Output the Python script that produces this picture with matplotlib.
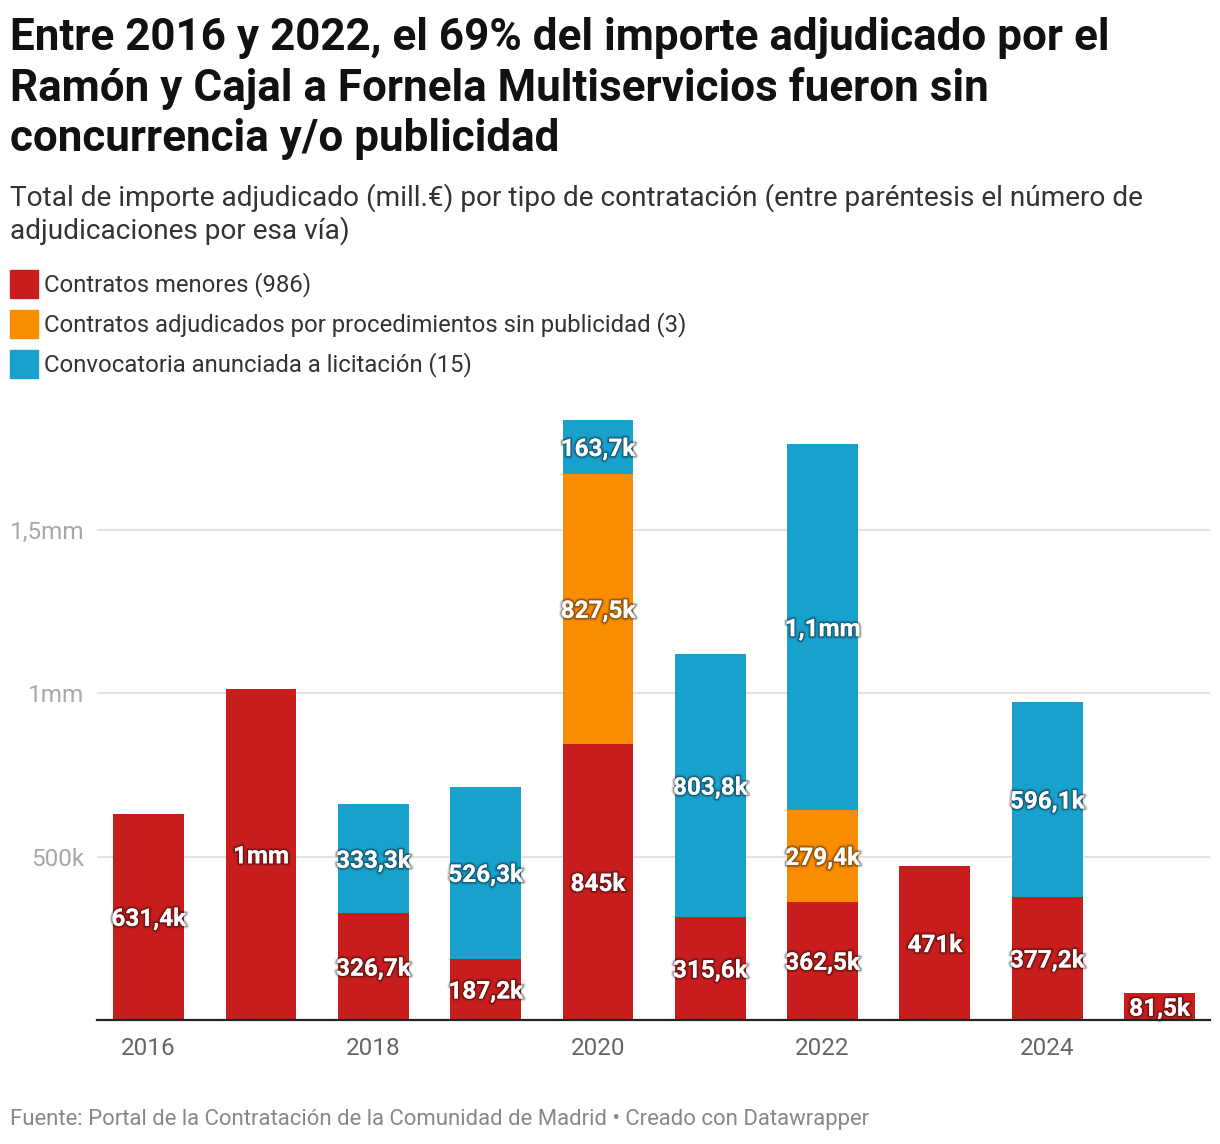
import matplotlib
matplotlib.use("Agg")
import matplotlib.pyplot as plt
import matplotlib.patheffects as pe
import numpy as np

years = [2016, 2017, 2018, 2019, 2020, 2021, 2022, 2023, 2024, 2025]
# values in thousands of euros
menores = [631.4, 1015.0, 326.7, 187.2, 845.0, 315.6, 362.5, 471.0, 377.2, 81.5]
sin_publicidad = [0, 0, 0, 0, 827.5, 0, 279.4, 0, 0, 0]
licitacion = [0, 0, 333.3, 526.3, 163.7, 803.8, 1122.0, 0, 596.1, 0]

series_names = ["Contratos menores (986)",
                "Contratos adjudicados por procedimientos sin publicidad (3)",
                "Convocatoria anunciada a licitación (15)"]
colors = ["#c71e1d", "#fa8c00", "#18a1cd"]

yticks = [500, 1000, 1500]
ytick_labels = ["500k", "1mm", "1,5mm"]
xticks = [2016, 2018, 2020, 2022, 2024]

title = ("Entre 2016 y 2022, el 69% del importe adjudicado por el\n"
         "Ramón y Cajal a Fornela Multiservicios fueron sin\n"
         "concurrencia y/o publicidad")
subtitle = ("Total de importe adjudicado (mill.€) por tipo de contratación (entre paréntesis el número de\n"
            "adjudicaciones por esa vía)")
footer = "Fuente: Portal de la Contratación de la Comunidad de Madrid • Creado con Datawrapper"

W, H = 1220, 1144
plt.rcParams['font.family'] = ['Roboto', 'DejaVu Sans']
fig = plt.figure(figsize=(W / 100, H / 100), dpi=100)

def fx(x):
    return x / W

def fy(y):
    return 1 - y / H

ymax = 1860
top_px = 1020 - ymax / 500 * 163.3
ax = fig.add_axes([fx(97), fy(1020), fx(1210) - fx(97), fy(top_px) - fy(1020)])
ax.set_xlim(2015.54, 2025.45)
ax.set_ylim(0, ymax)

def fmt(v):
    if v >= 1000:
        s = f"{v/1000:.1f}"
        if s.endswith(".0"):
            s = s[:-2]
        return s.replace(".", ",") + "mm"
    s = f"{v:.1f}"
    if s.endswith(".0"):
        s = s[:-2]
    return s.replace(".", ",") + "k"

x = np.array(years, dtype=float)
bottom = np.zeros(len(years))
width = 0.63
effects = [pe.withStroke(linewidth=4, foreground=(0, 0, 0, 0.12)),
           pe.withStroke(linewidth=2.2, foreground=(0, 0, 0, 0.3))]
for vals, col in zip([menores, sin_publicidad, licitacion], colors):
    v = np.array(vals, dtype=float)
    ax.bar(x, v, width, bottom=bottom, color=col, zorder=3, linewidth=0)
    for xi, vi, bi in zip(x, v, bottom):
        if vi > 0:
            ax.text(xi, bi + vi / 2, fmt(vi), ha='center', va='center_baseline',
                    color='white', fontsize=17.5, fontweight='bold',
                    zorder=5, path_effects=effects)
    bottom = bottom + v

ax.set_yticks(yticks)
ax.set_yticklabels(ytick_labels)
ax.set_xticks(xticks)
ax.set_xticklabels([str(t) for t in xticks])
ax.tick_params(axis='y', length=0, pad=9, labelsize=17.5, labelcolor='#a8a8a8')
ax.tick_params(axis='x', length=0, pad=12, labelsize=17.5, labelcolor='#666666')
ax.grid(axis='y', color='#e3e3e3', linewidth=1.4, zorder=0)
ax.set_axisbelow(True)
for s in ['top', 'right', 'left']:
    ax.spines[s].set_visible(False)
ax.spines['bottom'].set_color('#222222')
ax.spines['bottom'].set_linewidth(1.6)
ax.spines['bottom'].set_zorder(6)

fig.text(fx(10), fy(17), title, ha='left', va='top', fontsize=31.7,
         fontweight='bold', color='#111111', linespacing=1.245)
fig.text(fx(10), fy(183), subtitle, ha='left', va='top', fontsize=20.2,
         color='#333333', linespacing=1.22)

leg_y = [284, 324, 364]
for name, col, yy in zip(series_names, colors, leg_y):
    fig.patches.append(plt.Rectangle((fx(10), fy(yy + 14)), fx(28), 28 / H,
                                     transform=fig.transFigure, color=col))
    fig.text(fx(44), fy(yy + 1), name, ha='left', va='center', fontsize=17.2,
             color='#333333')

fig.text(fx(10), fy(1119), footer, ha='left', va='center', fontsize=15.9,
         color='#888888')

fig.savefig("out.png", dpi=100)
